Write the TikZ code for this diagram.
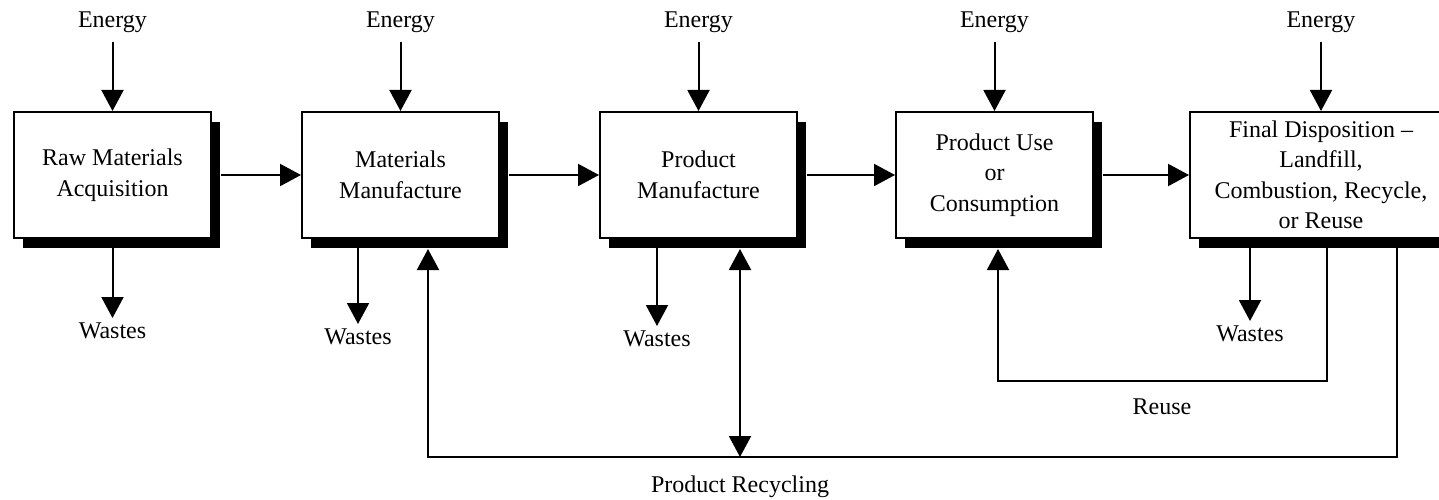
\documentclass[tikz,border=0pt]{standalone}
\usepackage{fontspec}
\setmainfont{Liberation Serif}
\usetikzlibrary{arrows.meta,positioning,shadows}

\begin{document}
\begin{tikzpicture}[
    x=1pt, y=-1pt,
    font=\fontsize{24}{30.5}\selectfont,
    stage/.style={
        rectangle,
        draw=black,
        line width=2pt,
        fill=white,
        minimum width=197pt,
        minimum height=126pt,
        inner sep=2pt,
        align=center,
        drop shadow={shadow xshift=9pt, shadow yshift=-10pt, fill=black, opacity=1}
    },
    tag/.style={inner sep=5pt},
    flowarrow/.style={line width=2pt, ->, >={Triangle[length=21pt,width=22pt]}}
]
\useasboundingbox (0,0) rectangle (1439,500);
\clip (0,0) rectangle (1439,500);

% life-cycle stages
\node (raw) [stage] at (112.5,175) {Raw Materials\\Acquisition};
\node (matman) [stage, right=89pt of raw] {Materials\\Manufacture};
\node (prodman) [stage, right=99pt of matman] {Product\\Manufacture};
\node (use) [stage, right=97pt of prodman] {Product Use\\or\\Consumption};
\node (disp) [stage, minimum width=262pt, right=95pt of use] {Final Disposition --\\Landfill,\\Combustion, Recycle,\\or Reuse};

% energy inputs
\node (en1) [tag, above=73pt of raw] {Energy};
\node (en2) [tag, above=73pt of matman] {Energy};
\node (en3) [tag, above=73pt of prodman] {Energy};
\node (en4) [tag, above=73pt of use] {Energy};
\node (en5) [tag, above=73pt of disp] {Energy};

% waste outputs
\node (w1) [tag, below=79pt of raw] {Wastes};
\node (w2) [tag, below=85pt of matman, xshift=-42.5pt] {Wastes};
\node (w3) [tag, below=87pt of prodman, xshift=-41.5pt] {Wastes};
\node (w5) [tag, below=82pt of disp, xshift=-71pt] {Wastes};

\coordinate (recycle) at ([xshift=41.5pt, yshift=-218pt]prodman.south);
\coordinate (reuse) at ([xshift=6pt, yshift=-142pt]disp.south);
\node (reuselbl) at (1162,407) {Reuse};
\node (reclbl) at (740,487) {Product Recycling};

\draw [flowarrow, shorten <=4pt] (en1) -- (raw);
\draw [flowarrow, shorten <=4pt] (en2) -- (matman);
\draw [flowarrow, shorten <=4pt] (en3) -- (prodman);
\draw [flowarrow, shorten <=4pt] (en4) -- (use);
\draw [flowarrow, shorten <=4pt] (en5) -- (disp);

\draw [flowarrow] ([xshift=9pt]raw.east) -- (matman);
\draw [flowarrow] ([xshift=9pt]matman.east) -- (prodman);
\draw [flowarrow] ([xshift=9pt]prodman.east) -- (use);
\draw [flowarrow] ([xshift=9pt]use.east) -- (disp);

\draw [flowarrow] (w1 |- raw.south) -- (w1);
\draw [flowarrow] (w2 |- matman.south) -- (w2);
\draw [flowarrow] (w3 |- prodman.south) -- (w3);
\draw [flowarrow] (w5 |- disp.south) -- (w5);

% recycling and reuse loops
\draw [flowarrow] ([xshift=76pt]disp.south) |- ([xshift=27.5pt]matman.south |- recycle) -- ([xshift=27.5pt, yshift=-10pt]matman.south);
\draw [flowarrow, <->] ([xshift=41.5pt, yshift=-10pt]prodman.south) -- (recycle);
\draw [flowarrow] ([xshift=6pt]disp.south) |- ([xshift=3.5pt]use.south |- reuse) -- ([xshift=3.5pt, yshift=-10pt]use.south);
\end{tikzpicture}
\end{document}
